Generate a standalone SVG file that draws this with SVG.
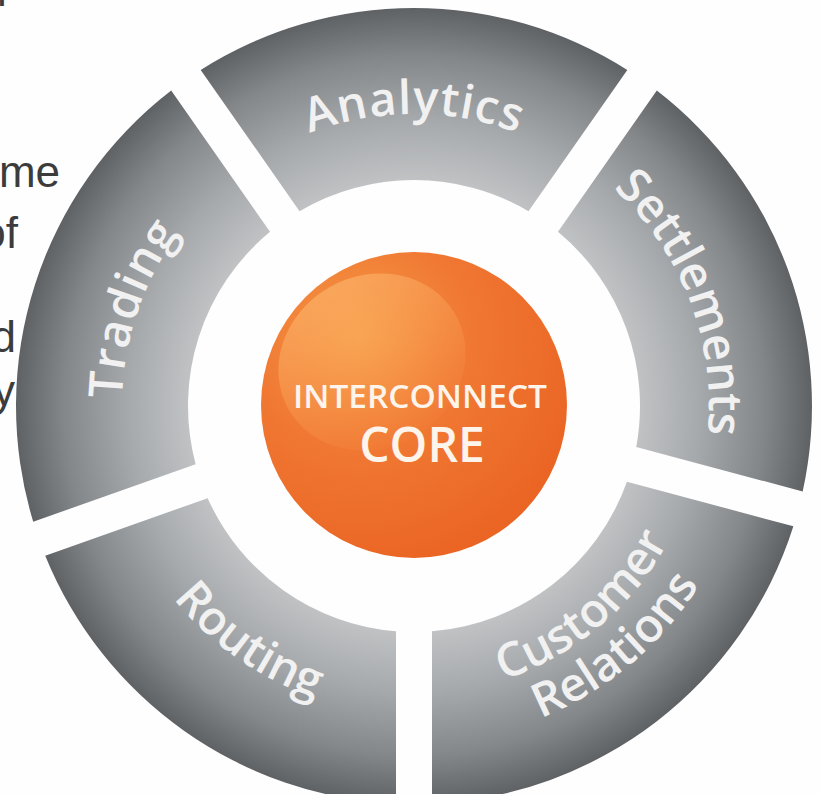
<svg xmlns="http://www.w3.org/2000/svg" width="821" height="794" viewBox="0 0 821 794">
<defs>
<radialGradient id="ringGrad" gradientUnits="userSpaceOnUse" cx="414" cy="406" r="398">
<stop offset="0.56" stop-color="#c1c3c5"/>
<stop offset="0.72" stop-color="#a6a9ac"/>
<stop offset="0.88" stop-color="#84878a"/>
<stop offset="1" stop-color="#5f6265"/>
</radialGradient>
<radialGradient id="coreGrad" cx="0.32" cy="0.28" r="0.8">
<stop offset="0" stop-color="#f59a45"/>
<stop offset="0.45" stop-color="#f07833"/>
<stop offset="1" stop-color="#ea6322"/>
</radialGradient>
<linearGradient id="gloss" x1="0" y1="0" x2="0" y2="1">
<stop offset="0" stop-color="#ffc27a" stop-opacity="0.5"/>
<stop offset="1" stop-color="#ffa55a" stop-opacity="0.05"/>
</linearGradient>
<path id="pAnalytics" d="M 161.12 260 A 292 292 0 0 1 666.88 260"/>
<path id="pTrading" d="M 193.63 597.58 A 292 292 0 0 1 358.29 119.37"/>
<path id="pSettlements" d="M 460.14 114.63 A 295 295 0 0 1 643.24 591.64"/>
<path id="pRouting" d="M 107.17 379.15 A 308 308 0 0 0 544.16 685.14"/>
<path id="pCustomer" d="M 315.50 676.63 A 288 288 0 0 0 697.62 356.00"/>
<path id="pRelations" d="M 298.75 722.68 A 337 337 0 0 0 745.88 347.50"/>
</defs>
<style>
.seg { fill: url(#ringGrad); }
.lbl { font-family: "Open Sans", "DejaVu Sans", sans-serif; fill: #f1f1f1; font-size: 47px; font-weight: 600; }
.side { font-family: "Liberation Sans", Arial, sans-serif; font-size: 44px; fill: #3c3c3c; }
.core { font-family: "Open Sans", "DejaVu Sans", sans-serif; fill: #fdf4ec; text-anchor: middle; font-weight: 600; }
</style>
<rect x="0" y="0" width="821" height="794" fill="#fefefe"/>

<g id="side-text">
<text class="side" x="-3" y="6">l</text>
<text class="side" x="60" y="187" text-anchor="end">me</text>
<text class="side" x="18" y="248" text-anchor="end">of</text>
<text class="side" x="16" y="352" text-anchor="end">d</text>
<text class="side" x="15" y="406" text-anchor="end">y</text>
</g>

<g id="connectors"></g>

<g id="node-analytics">
<path class="seg" d="M 200.69 69.97 A 398 398 0 0 1 627.31 69.97 L 528.47 211.13 A 226 226 0 0 0 299.53 211.13 Z"/>
<text class="lbl" letter-spacing="1"><textPath href="#pAnalytics" startOffset="50%" text-anchor="middle">Analytics</textPath></text>
</g>

<g id="node-settlements">
<path class="seg" d="M 656.81 90.61 A 398 398 0 0 1 802.69 491.51 L 636.26 446.91 A 226 226 0 0 0 557.97 231.77 Z"/>
<text class="lbl" font-size="42"><textPath href="#pSettlements" startOffset="50%" text-anchor="middle">Settlements</textPath></text>
</g>

<g id="node-customer-relations">
<path class="seg" d="M 793.37 526.29 A 398 398 0 0 1 432 803.59 L 432 631.28 A 226 226 0 0 0 626.94 481.69 Z"/>
<text class="lbl" font-size="33"><textPath href="#pCustomer" startOffset="50%" text-anchor="middle">Customer</textPath></text>
<text class="lbl" font-size="33"><textPath href="#pRelations" startOffset="50%" text-anchor="middle">Relations</textPath></text>
</g>

<g id="node-routing">
<path class="seg" d="M 396 803.59 A 398 398 0 0 1 45.24 555.69 L 207.66 498.17 A 226 226 0 0 0 396 631.28 Z"/>
<text class="lbl"><textPath href="#pRouting" startOffset="50%" text-anchor="middle">Routing</textPath></text>
</g>

<g id="node-trading">
<path class="seg" d="M 33.22 521.75 A 398 398 0 0 1 171.19 90.61 L 270.03 231.77 A 226 226 0 0 0 195.64 464.23 Z"/>
<text class="lbl" letter-spacing="1"><textPath href="#pTrading" startOffset="50%" text-anchor="middle">Trading</textPath></text>
</g>

<g id="node-core">
<circle cx="414" cy="405" r="153" fill="url(#coreGrad)"/>
<ellipse cx="372" cy="362" rx="96" ry="86" transform="rotate(-30 372 362)" fill="url(#gloss)"/>
<text class="core" x="420" y="408" font-size="33" textLength="254" lengthAdjust="spacingAndGlyphs">INTERCONNECT</text>
<text class="core" x="422" y="462" font-size="48">CORE</text>
</g>
</svg>
